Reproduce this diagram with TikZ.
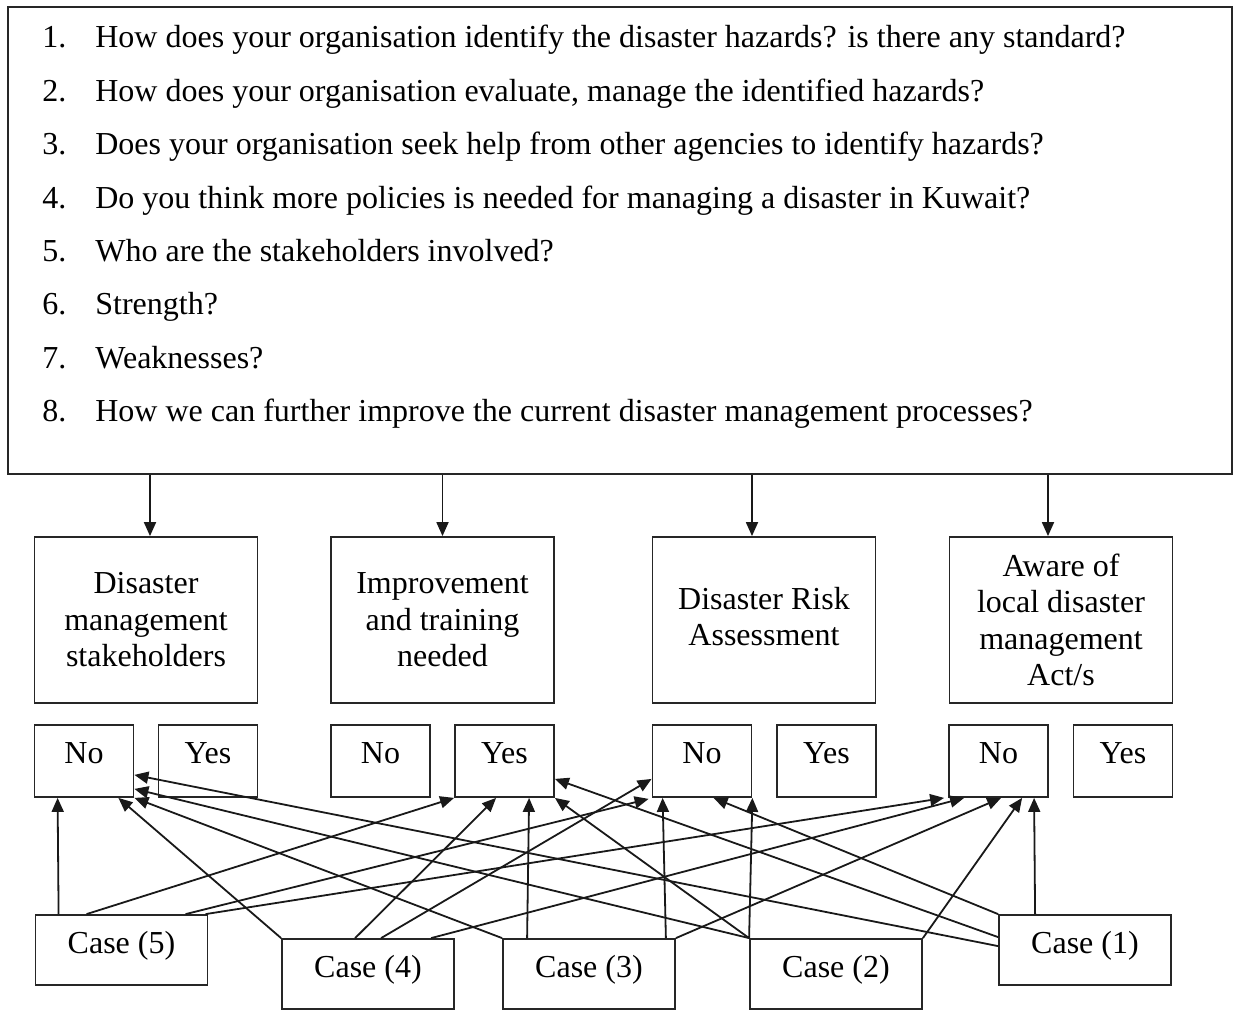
\documentclass[tikz,border=0pt]{standalone}
\usepackage{fontspec}
\setmainfont{Liberation Serif}
\usetikzlibrary{arrows.meta,calc}
\begin{document}
\begin{tikzpicture}[x=0.5pt,y=-0.5pt,
  frame/.style={draw=black!85, line width=0.9pt, inner sep=0pt},
  catbox/.style={frame, minimum width=111.5pt, minimum height=83pt, align=center,
    font=\fontsize{16}{18.25}\selectfont},
  ynbox/.style={frame, minimum width=49.5pt, minimum height=36pt,
    font=\fontsize{16}{19}\selectfont, text height=11pt, text depth=8.4pt},
  casebox/.style={frame, minimum width=86pt, minimum height=35pt,
    font=\fontsize{16}{19}\selectfont, text height=11pt, text depth=7.5pt},
  link/.style={draw=black!90, line width=0.9pt, -{Triangle[length=7pt,width=6pt]}}
]
\fill[white] (0,0) rectangle (1233,1011);
\useasboundingbox (0,0) rectangle (1233,1011);

% question panel
\node[frame, minimum width=612pt, minimum height=233.5pt] (q) at (620,240.5) {};
\node[anchor=base west, inner sep=0pt, font=\fontsize{16}{26.67}\selectfont] (qlist) at (42,48) {%
  \begin{tabular}[t]{@{}p{26.5pt}@{}l@{}}
  1. & How does your organisation identify the disaster hazards? is there any standard?\\
  2. & How does your organisation evaluate, manage the identified hazards?\\
  3. & Does your organisation seek help from other agencies to identify hazards?\\
  4. & Do you think more policies is needed for managing a disaster in Kuwait?\\
  5. & Who are the stakeholders involved?\\
  6. & Strength?\\
  7. & Weaknesses?\\
  8. & How we can further improve the current disaster management processes?
  \end{tabular}};

% themes
\node[catbox] (cat1) at (146,620) {Disaster\\management\\stakeholders};
\node[catbox] (cat2) at (442.5,620) {Improvement\\and training\\needed};
\node[catbox] (cat3) at (764,620) {\raisebox{3pt}{\begin{tabular}{@{}c@{}}Disaster Risk\\Assessment\end{tabular}}};
\node[catbox] (cat4) at (1061,620) {Aware of\\local disaster\\management\\Act/s};

\draw[link] ($(q.south -| cat1.north)+(4,0)$) -- ($(cat1.north)+(4,0)$);
\draw[link] (q.south -| cat2.north) -- (cat2.north);
\draw[link] ($(q.south -| cat3.north)+(-12,0)$) -- ($(cat3.north)+(-12,0)$);
\draw[link] ($(q.south -| cat4.north)+(-13,0)$) -- ($(cat4.north)+(-13,0)$);

% answers
\node[ynbox] (no1)  at (84,761)    {No};
\node[ynbox] (yes1) at (208,761)   {Yes};
\node[ynbox] (no2)  at (380.5,761) {No};
\node[ynbox] (yes2) at (504.5,761) {Yes};
\node[ynbox] (no3)  at (702,761)   {No};
\node[ynbox] (yes3) at (826.5,761) {Yes};
\node[ynbox] (no4)  at (998.5,761) {No};
\node[ynbox] (yes4) at (1123,761)  {Yes};

% cases
\node[casebox] (c5) at (121.5,950) {Case (5)};
\node[casebox] (c4) at (368,974)   {Case (4)};
\node[casebox] (c3) at (589,974)   {Case (3)};
\node[casebox] (c2) at (836,974)   {Case (2)};
\node[casebox] (c1) at (1085,950)  {Case (1)};

% Case (5)
\draw[link] ($(c5.north west)+(24,0)$) -- ($(no1.south west)+(24,0)$);
\draw[link] ($(c5.north west)+(52,0)$) -- (yes2.south west);
\draw[link] ($(c5.north west)+(151,0)$) -- ($(no3.south west)+(-3,1)$);
\draw[link] ($(c5.north west)+(171,0)$) -- ($(no4.south west)+(-4,0)$);

% Case (4)
\draw[link] (c4.north west) -- ($(no1.south east)+(-16,0)$);
\draw[link] ($(c4.north west)+(74,0)$) -- ($(yes2.south west)+(42,0)$);
\draw[link] ($(c4.north west)+(100,0)$) -- ($(no3.south west)+(0,-19)$);
\draw[link] ($(c4.north west)+(150,0)$) -- ($(no4.south west)+(16,0)$);

% Case (3)
\draw[link] (c3.north west) -- (no1.south east);
\draw[link] ($(c3.north west)+(25,0)$) -- ($(yes2.south west)+(75,0)$);
\draw[link] ($(c3.north east)+(-10,0)$) -- ($(no3.south west)+(11,0)$);
\draw[link] (c3.north east) -- ($(no4.south west)+(53,0)$);

% Case (2)
\draw[link] (c2.north west) -- ($(no1.south east)+(0,-9)$);
\draw[link] (c2.north west) -- (yes2.south east);
\draw[link] (c2.north west) -- (no3.south east);
\draw[link] (c2.north east) -- ($(no4.south west)+(74,0)$);

% Case (1)
\draw[link] (c1.north west) -- ($(no3.south west)+(62,0)$);
\draw[link] ($(c1.north west)+(0,23)$) -- ($(yes2.south east)+(0,-19)$);
\draw[link] ($(c1.north west)+(0,32)$) -- ($(no1.south east)+(0,-23)$);
\draw[link] ($(c1.north west)+(37,0)$) -- ($(no4.south west)+(86,0)$);
\end{tikzpicture}
\end{document}
